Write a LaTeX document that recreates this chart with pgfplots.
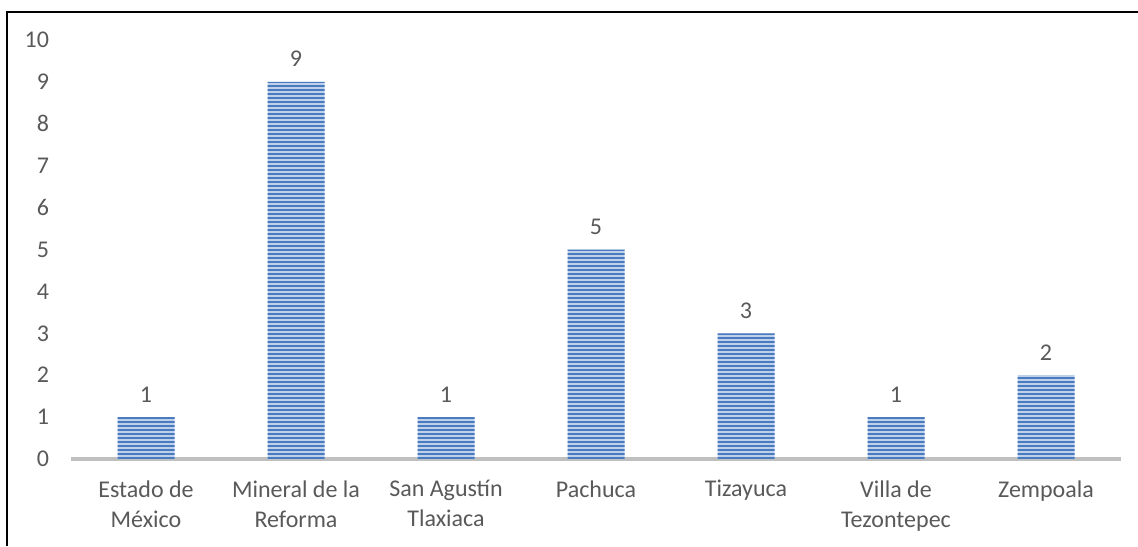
\documentclass[border=0pt]{standalone}
\usepackage{fontspec}
\setmainfont{Carlito}
\usepackage{pgfplots}
\pgfplotsset{compat=1.18}
\usetikzlibrary{patterns.meta}
\definecolor{txt}{HTML}{595959}
\definecolor{barbg}{HTML}{BFD0EA}
\definecolor{barfg}{HTML}{4A7BBE}
\definecolor{axgray}{HTML}{BFBFBF}
\begin{document}
\begin{tikzpicture}
\path[use as bounding box] (-35.5pt,-43.5pt) rectangle (533.5pt,229.5pt);
\draw[black, line width=1.1pt] (-32pt,-43.5pt) -- (-32pt,223.5pt) -- (533.5pt,223.5pt);
\begin{axis}[
  at={(0,0)}, anchor=south west,
  scale only axis, width=525pt, height=209.5pt,
  xmin=-0.5, xmax=6.5, ymin=0, ymax=10,
  axis line style={draw=none},
  ytick={0,1,...,10},
  xtick={0,1,...,6},
  xticklabels={{Estado de\\México},{Mineral de la\\Reforma},{San Agustín\\Tlaxiaca},{Pachuca},{Tizayuca},{Villa de\\Tezontepec},{Zempoala}},
  major tick length=0pt,
  tick style={draw=none},
  font=\fontsize{12}{15}\selectfont,
  /pgf/number format/assume math mode=true,
  tick label style={text=txt, font=\fontsize{12}{15}\selectfont},
  yticklabel style={anchor=east, xshift=-7.5pt},
  xticklabel style={align=center, anchor=north, inner sep=0pt, yshift=-10.5pt},
  clip=false,
]
\draw[axgray, line width=1.6pt] (axis cs:-0.5,0) -- (axis cs:6.5,0);
\addplot[ybar, bar width=28.5pt, draw=none, fill=barbg,
  postaction={pattern={Lines[angle=0,distance=2pt,line width=1.3pt]}, pattern color=barfg},
  nodes near coords, every node near coord/.append style={text=txt, font=\fontsize{12}{15}\selectfont, yshift=4pt}]
  coordinates {(0,1) (1,9) (2,1) (3,5) (4,3) (5,1) (6,2)};
\end{axis}
\end{tikzpicture}
\end{document}
